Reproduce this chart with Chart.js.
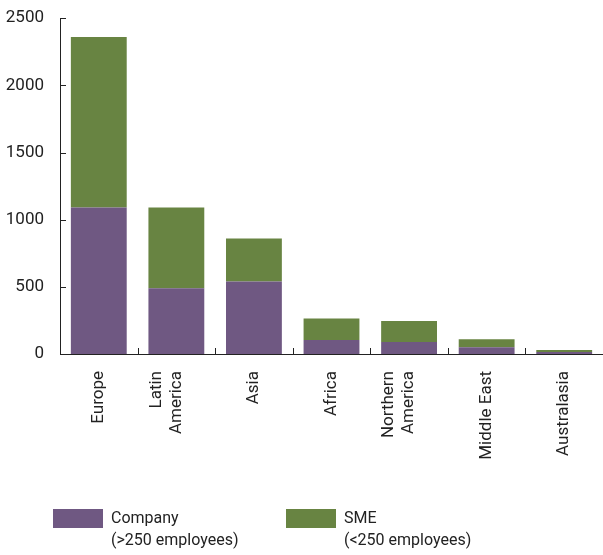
<!DOCTYPE html>
<html>
<head>
<meta charset="utf-8">
<script src="https://cdn.jsdelivr.net/npm/chart.js@4"></script>
<style>
  body { margin: 0; background: #fff; }
  #wrap { position: relative; width: 603px; height: 555px; }
  .leg { position: absolute; top: 509px; font-family: Roboto, sans-serif; font-size: 16px; color: #222; line-height: 22px; }
  .leg .box { position: absolute; left: 0; top: 0; width: 50px; height: 19px; }
  .leg .txt { position: absolute; left: 58px; top: -2px; white-space: nowrap; }
</style>
</head>
<body>
<div id="wrap">
  <canvas id="myChart" width="603" height="555"></canvas>
  <div class="leg" style="left:53px"><div class="box" style="background:#6f5882"></div><div class="txt">Company<br>(&gt;250 employees)</div></div>
  <div class="leg" style="left:286px"><div class="box" style="background:#688442"></div><div class="txt">SME<br>(&lt;250 employees)</div></div>
</div>
<script>
const ctx = document.getElementById("myChart").getContext("2d");

// 지역별 데이터
const regions = ["Europe", ["Latin", "America"], "Asia", "Africa", ["Northern", "America"], "Middle East", "Australasia"];
const company = [1090, 490, 540, 105, 90, 50, 15];
const sme = [1270, 600, 320, 160, 155, 60, 15];
const yTicks = [0, 500, 1000, 1500, 2000, 2500];

const FONT = "17px Roboto";

// 안쪽으로 향하는 눈금 + 세로 라벨 (마지막 줄이 가운데)
const axisExtras = {
  id: "axisExtras",
  afterDraw(chart) {
    const c = chart.ctx;
    const x = chart.scales.x;
    const y = chart.scales.y;
    c.save();
    c.strokeStyle = "#222";
    c.lineWidth = 1;
    c.beginPath();
    for (let i = 1; i <= regions.length; i++) {
      const px = Math.round(x.getPixelForValue(i - 0.5)) + 0.5;
      c.moveTo(px, y.bottom);
      c.lineTo(px, y.bottom - 6);
    }
    yTicks.forEach((v) => {
      const py = Math.round(y.getPixelForValue(v)) + 0.5;
      c.moveTo(x.left, py);
      c.lineTo(x.left + 6, py);
    });
    c.stroke();

    c.fillStyle = "#222";
    c.font = FONT;
    c.textAlign = "right";
    c.textBaseline = "middle";
    regions.forEach((lab, i) => {
      const lines = Array.isArray(lab) ? lab : [lab];
      const cx = x.getPixelForValue(i);
      lines.forEach((ln, j) => {
        const off = (j - (lines.length - 1)) * 20;
        c.save();
        c.translate(cx + off, y.bottom + 17);
        c.rotate(-Math.PI / 2);
        c.fillText(ln, 0, 0);
        c.restore();
      });
    });
    c.restore();
  },
};

const chart = new Chart(ctx, {
  type: "bar",
  data: {
    labels: regions,
    datasets: [
      { label: "Company (>250 employees)", data: company, backgroundColor: "#6f5882" },
      { label: "SME (<250 employees)", data: sme, backgroundColor: "#688442" },
    ],
  },
  options: {
    responsive: false,
    animation: false,
    layout: { padding: { top: 8, right: 0, bottom: 0, left: 0 } },
    plugins: { legend: { display: false }, tooltip: { enabled: false } },
    datasets: { bar: { categoryPercentage: 0.72, barPercentage: 1 } },
    scales: {
      x: {
        stacked: true,
        grid: { display: false },
        border: { display: true, color: "#222", width: 1 },
        ticks: { display: false },
        afterFit(scale) { scale.height = 201; },
      },
      y: {
        stacked: true,
        min: 0,
        max: 2500,
        afterBuildTicks(scale) { scale.ticks = yTicks.map((v) => ({ value: v })); },
        grid: { display: false },
        border: { display: true, color: "#222", width: 1 },
        ticks: { color: "#222", font: { family: "Roboto", size: 17 }, padding: 8, callback: (v) => String(v) },
        afterFit(scale) { scale.width = 60; },
      },
    },
  },
  plugins: [axisExtras],
});
</script>
</body>
</html>
